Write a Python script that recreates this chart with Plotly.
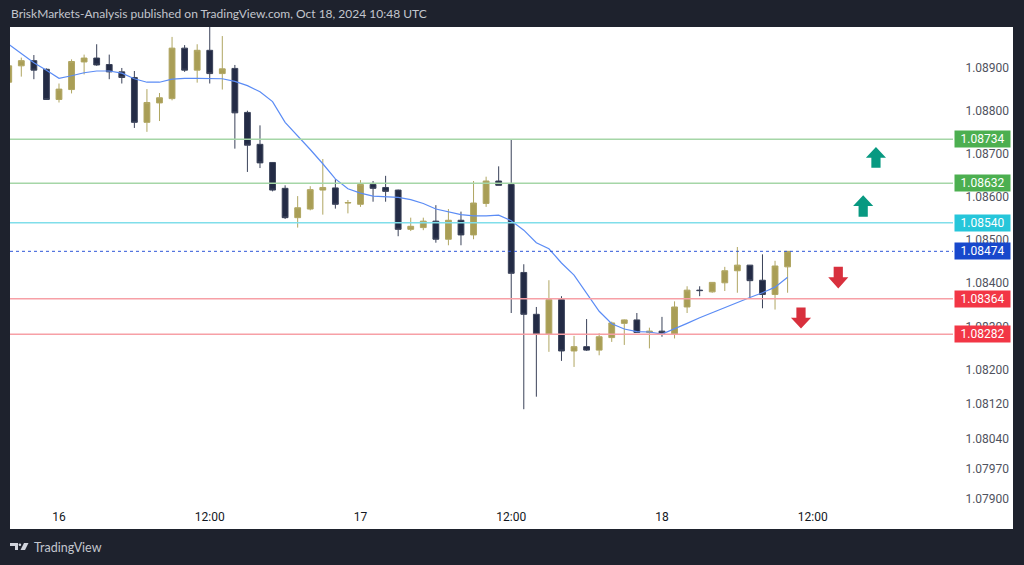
import pandas as pd
import plotly.graph_objects as go

# ---------------- data (hourly EURUSD) ----------------
start_time = "2024-10-15 20:00"
opens = [1.08866, 1.08904, 1.08916, 1.08896, 1.08826, 1.08849, 1.08913, 1.08922, 1.08907, 1.08890,
         1.08877, 1.08773, 1.08818, 1.08828, 1.08945, 1.08894, 1.08940, 1.08886, 1.08898, 1.08796,
         1.08722, 1.08680, 1.08620, 1.08552, 1.08572, 1.08616, 1.08621, 1.08586, 1.08583, 1.08629,
         1.08622, 1.08616, 1.08525, 1.08529, 1.08544, 1.08502, 1.08546, 1.08512, 1.08585, 1.08637,
         1.08629, 1.08425, 1.08328, 1.08282, 1.08362, 1.08243, 1.08253, 1.08245, 1.08274, 1.08307,
         1.08315, 1.08286, 1.08289, 1.08282, 1.08345, 1.08384, 1.08380, 1.08401, 1.08429, 1.08442,
         1.08407, 1.08374, 1.08438]
highs = [1.08908, 1.08923, 1.08929, 1.08898, 1.08863, 1.08919, 1.08930, 1.08954, 1.08930, 1.08899,
         1.08892, 1.08850, 1.08841, 1.08971, 1.08952, 1.08954, 1.09010, 1.08973, 1.08906, 1.08800,
         1.08766, 1.08681, 1.08627, 1.08602, 1.08625, 1.08688, 1.08641, 1.08593, 1.08639, 1.08637,
         1.08649, 1.08617, 1.08552, 1.08552, 1.08581, 1.08572, 1.08566, 1.08637, 1.08647, 1.08671,
         1.08734, 1.08444, 1.08345, 1.08407, 1.08370, 1.08278, 1.08317, 1.08284, 1.08311, 1.08316,
         1.08331, 1.08297, 1.08322, 1.08358, 1.08393, 1.08393, 1.08402, 1.08438, 1.08484, 1.08442,
         1.08467, 1.08452, 1.08474]
lows = [1.08862, 1.08879, 1.08873, 1.08825, 1.08819, 1.08840, 1.08884, 1.08904, 1.08873, 1.08863,
        1.08760, 1.08751, 1.08776, 1.08824, 1.08890, 1.08865, 1.08863, 1.08849, 1.08712, 1.08658,
        1.08667, 1.08613, 1.08549, 1.08529, 1.08569, 1.08559, 1.08573, 1.08562, 1.08577, 1.08589,
        1.08589, 1.08509, 1.08521, 1.08523, 1.08494, 1.08488, 1.08488, 1.08502, 1.08577, 1.08627,
        1.08331, 1.08108, 1.08137, 1.08241, 1.08220, 1.08206, 1.08243, 1.08233, 1.08264, 1.08257,
        1.08285, 1.08249, 1.08276, 1.08272, 1.08331, 1.08370, 1.08378, 1.08382, 1.08378, 1.08366,
        1.08342, 1.08339, 1.08378]
closes = [1.08904, 1.08916, 1.08894, 1.08826, 1.08850, 1.08914, 1.08922, 1.08906, 1.08890, 1.08877,
          1.08773, 1.08819, 1.08830, 1.08945, 1.08894, 1.08940, 1.08886, 1.08897, 1.08795, 1.08720,
          1.08679, 1.08616, 1.08552, 1.08575, 1.08617, 1.08622, 1.08583, 1.08587, 1.08629, 1.08620,
          1.08613, 1.08525, 1.08532, 1.08544, 1.08502, 1.08546, 1.08512, 1.08586, 1.08637, 1.08627,
          1.08423, 1.08328, 1.08282, 1.08362, 1.08243, 1.08253, 1.08245, 1.08276, 1.08308, 1.08315,
          1.08286, 1.08289, 1.08284, 1.08345, 1.08384, 1.08383, 1.08402, 1.08429, 1.08442, 1.08406,
          1.08374, 1.08440, 1.08474]
moving_avg = [1.08954, 1.08933, 1.08911, 1.08894, 1.08875, 1.08881, 1.08888, 1.08892, 1.08892, 1.08887,
              1.08874, 1.08866, 1.08866, 1.08873, 1.08875, 1.08875, 1.08875, 1.08874, 1.08868, 1.08858,
              1.08844, 1.08821, 1.08773, 1.08742, 1.08710, 1.08677, 1.08642, 1.08619, 1.08609, 1.08602,
              1.08601, 1.08599, 1.08594, 1.08585, 1.08572, 1.08565, 1.08559, 1.08556, 1.08556, 1.08558,
              1.08545, 1.08523, 1.08494, 1.08480, 1.08447, 1.08419, 1.08377, 1.08335, 1.08306, 1.08294,
              1.08288, 1.08287, 1.08282, 1.08294, 1.08307, 1.08320, 1.08332, 1.08343, 1.08355, 1.08367,
              1.08378, 1.08391, 1.08414]

level_prices = [1.08734, 1.08632, 1.08540, 1.08364, 1.08282]
level_line_colors = ["#a5d6a7", "#a5d6a7", "#80deea", "#f7a0a6", "#f7a0a6"]
level_box_colors = ["#4caf50", "#4caf50", "#26c6da", "#f23645", "#f23645"]
last_price = 1.08474

price_ticks = [1.08900, 1.08800, 1.08700, 1.08600, 1.08500, 1.08400, 1.08300, 1.08200,
               1.08120, 1.08040, 1.07970, 1.07900]
time_ticks = ["2024-10-16 00:00", "2024-10-16 12:00", "2024-10-17 00:00",
              "2024-10-17 12:00", "2024-10-18 00:00", "2024-10-18 12:00"]
time_tick_text = ["16", "12:00", "17", "12:00", "18", "12:00"]

# arrows: (centre time, tip price, joint price, tail price, direction)
arrows = [
    ("2024-10-18 17:02", 1.08716, 1.08691, 1.08668, "up"),
    ("2024-10-18 16:01", 1.08604, 1.08579, 1.08554, "up"),
    ("2024-10-18 14:02", 1.08388, 1.08414, 1.08438, "down"),
    ("2024-10-18 11:04", 1.08295, 1.08320, 1.08344, "down"),
]

x_range = ["2024-10-15 20:06", "2024-10-18 23:10"]
y_range = [1.07879, 1.08994]

# ---------------- figure ----------------
times = pd.date_range(start_time, periods=len(opens), freq="h")

FRAME = "#1e222d"
W, H = 1024, 565
ML, MR, MT, MB = 10, 71, 27, 57
PW, PH = W - ML - MR, H - MT - MB


def px(x):
    return (x - ML) / PW


def py(y):
    return (H - MB - y) / PH


def ms(ts):
    return (ts - pd.Timestamp("1970-01-01")) / pd.Timedelta(milliseconds=1)


fig = go.Figure()

fig.add_trace(go.Candlestick(
    x=times, open=opens, high=highs, low=lows, close=closes,
    increasing=dict(line=dict(color="#b0a662", width=1), fillcolor="#a99e56"),
    decreasing=dict(line=dict(color="#3a4259", width=1), fillcolor="#232b45"),
    whiskerwidth=0, hoverinfo="skip", showlegend=False,
))

fig.add_trace(go.Scatter(
    x=times, y=moving_avg, mode="lines",
    line=dict(color="#5b8cf5", width=1.2), hoverinfo="skip", showlegend=False,
))

shapes = []
# white panel
shapes.append(dict(type="rect", xref="paper", yref="paper", x0=px(10), x1=px(1013),
                   y0=py(529), y1=py(27), fillcolor="white", line=dict(width=0), layer="below"))

for p, c in zip(level_prices, level_line_colors):
    shapes.append(dict(type="line", xref="paper", yref="y", x0=0, x1=1, y0=p, y1=p,
                       line=dict(color=c, width=1.5)))
shapes.append(dict(type="line", xref="paper", yref="y", x0=0, x1=1, y0=last_price, y1=last_price,
                   line=dict(color="#2f56d8", width=1, dash="dot")))

for t, tip, joint, tail, direction in arrows:
    tc = pd.Timestamp(t)
    hw = pd.Timedelta(minutes=48)
    sw = pd.Timedelta(minutes=22)
    pts = [(tc - sw, tail), (tc - sw, joint), (tc - hw, joint), (tc, tip),
           (tc + hw, joint), (tc + sw, joint), (tc + sw, tail)]
    path = "M " + " L ".join(f"{ms(a):.0f},{b}" for a, b in pts) + " Z"
    col = "#089981" if direction == "up" else "#d8303d"
    shapes.append(dict(type="path", xref="x", yref="y", path=path,
                       fillcolor=col, line=dict(width=0)))

# TradingView logo (footer)
logo_col = "#d1d4dc"
shapes.append(dict(type="path", xref="paper", yref="paper",
                   path=f"M {px(10)},{py(543)} L {px(18)},{py(543)} L {px(18)},{py(550)} "
                        f"L {px(15)},{py(550)} L {px(15)},{py(546)} L {px(10)},{py(546)} Z",
                   fillcolor=logo_col, line=dict(width=0)))
shapes.append(dict(type="circle", xref="paper", yref="paper", x0=px(18.6), x1=px(21.2),
                   y0=py(546), y1=py(543.4), fillcolor=logo_col, line=dict(width=0)))
shapes.append(dict(type="path", xref="paper", yref="paper",
                   path=f"M {px(24)},{py(543)} L {px(28.5)},{py(543)} L {px(25)},{py(550)} "
                        f"L {px(20.5)},{py(550)} Z",
                   fillcolor=logo_col, line=dict(width=0)))

annotations = []
box_items = list(zip(level_prices[:3], level_box_colors[:3])) + [(last_price, "#1848cc")] + \
    list(zip(level_prices[3:], level_box_colors[3:]))
for p, c in box_items:
    annotations.append(dict(xref="paper", yref="y", x=px(954), y=p, xanchor="left", yanchor="middle",
                            text=f"{p:.5f}", showarrow=False, bgcolor=c, width=51, height=12,
                            borderpad=2, font=dict(color="white", size=12, family="Roboto")))

annotations.append(dict(xref="paper", yref="paper", x=px(9), y=py(13), xanchor="left",
                        yanchor="middle", showarrow=False,
                        text="BriskMarkets-Analysis published on TradingView.com, Oct 18, 2024 10:48 UTC",
                        font=dict(color="#c3c6ce", size=12, family="Lato")))
annotations.append(dict(xref="paper", yref="paper", x=px(32), y=py(547), xanchor="left",
                        yanchor="middle", showarrow=False, text="TradingView",
                        font=dict(color="#c3c6ce", size=12.5, family="Lato")))

fig.update_layout(
    width=W, height=H,
    margin=dict(l=ML, r=MR, t=MT, b=MB, pad=0),
    paper_bgcolor=FRAME, plot_bgcolor="white",
    boxgap=0.34,
    shapes=shapes, annotations=annotations,
    font=dict(family="Roboto", size=12, color="#131722"),
    xaxis=dict(type="date", range=x_range, rangeslider=dict(visible=False), showgrid=False,
               zeroline=False, showline=False, tickvals=time_ticks, ticktext=time_tick_text,
               ticks="", tickfont=dict(size=12, color="#131722", family="Roboto")),
    yaxis=dict(side="right", range=y_range, showgrid=False, zeroline=False, showline=False,
               tickvals=price_ticks, ticktext=[f"{v:.5f}" for v in price_ticks],
               ticks="outside", ticklen=9, tickcolor="rgba(0,0,0,0)",
               tickfont=dict(size=12, color="#50535e", family="Roboto")),
    hovermode=False,
)

fig.write_html("out.html")
